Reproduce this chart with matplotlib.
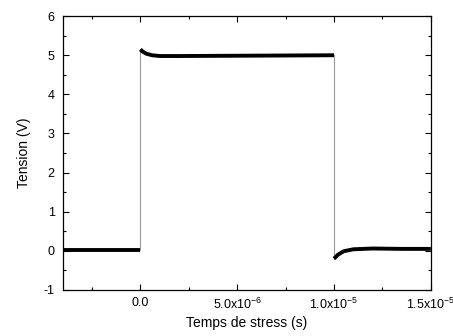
import matplotlib
matplotlib.use("Agg")
import matplotlib.pyplot as plt
from matplotlib.ticker import MultipleLocator

plt.rcParams["font.family"] = ["Liberation Sans", "DejaVu Sans"]
plt.rcParams["mathtext.fontset"] = "custom"
plt.rcParams["mathtext.rm"] = "Liberation Sans"
plt.rcParams["axes.unicode_minus"] = False

# baseline before the pulse
t_before = [-4.0e-6, -2.0e-6, 0.0]
v_before = [0.03, 0.03, 0.03]

# high level of the pulse (overshoot then settle)
t_high = [0.0, 0.1e-6, 0.3e-6, 0.6e-6, 1.0e-6, 2.0e-6, 6.0e-6, 1.0e-5]
v_high = [5.15, 5.10, 5.04, 5.00, 4.98, 4.98, 4.99, 5.00]

# after the pulse (undershoot then recovery)
t_after = [1.0e-5, 1.02e-5, 1.05e-5, 1.1e-5, 1.2e-5, 1.35e-5, 1.5e-5]
v_after = [-0.20, -0.10, -0.01, 0.04, 0.06, 0.05, 0.05]

# rising and falling edges
t_rise = [0.0, 0.0]
v_rise = [0.03, 5.15]
t_fall = [1.0e-5, 1.0e-5]
v_fall = [5.00, -0.20]

xticks = [0.0, 5.0e-6, 1.0e-5, 1.5e-5]
xtick_labels = ["0.0", r"5.0x10$^{\mathrm{-6}}$", r"1.0x10$^{\mathrm{-5}}$", r"1.5x10$^{\mathrm{-5}}$"]

fig = plt.figure(figsize=(4.53, 3.36), dpi=100)
ax = fig.add_axes([0.139, 0.137, 0.812, 0.815])

ax.plot(t_rise, v_rise, color="#9a9a9a", lw=0.8)
ax.plot(t_fall, v_fall, color="#9a9a9a", lw=0.8)
for t, v in [(t_before, v_before), (t_high, v_high), (t_after, v_after)]:
    ax.plot(t, v, color="black", lw=2.8, solid_capstyle="butt")

ax.set_xlim(-4.0e-6, 1.5e-5)
ax.set_ylim(-1, 6)
ax.set_xticks(xticks)
ax.set_xticklabels(xtick_labels)
ax.xaxis.set_minor_locator(MultipleLocator(2.5e-6))
ax.yaxis.set_major_locator(MultipleLocator(1))
ax.yaxis.set_minor_locator(MultipleLocator(0.5))
ax.tick_params(which="both", direction="in", top=True, right=True, labelsize=9, pad=6)
ax.tick_params(axis="x", which="both", pad=5)
ax.tick_params(which="major", length=4, width=0.8)
ax.tick_params(which="minor", length=2.5, width=0.8)
for s in ax.spines.values():
    s.set_linewidth(0.9)

ax.set_xlabel("Temps de stress (s)", fontsize=10, labelpad=3)
ax.set_ylabel("Tension (V)", fontsize=10, labelpad=9)

fig.savefig("out.png", dpi=100)
